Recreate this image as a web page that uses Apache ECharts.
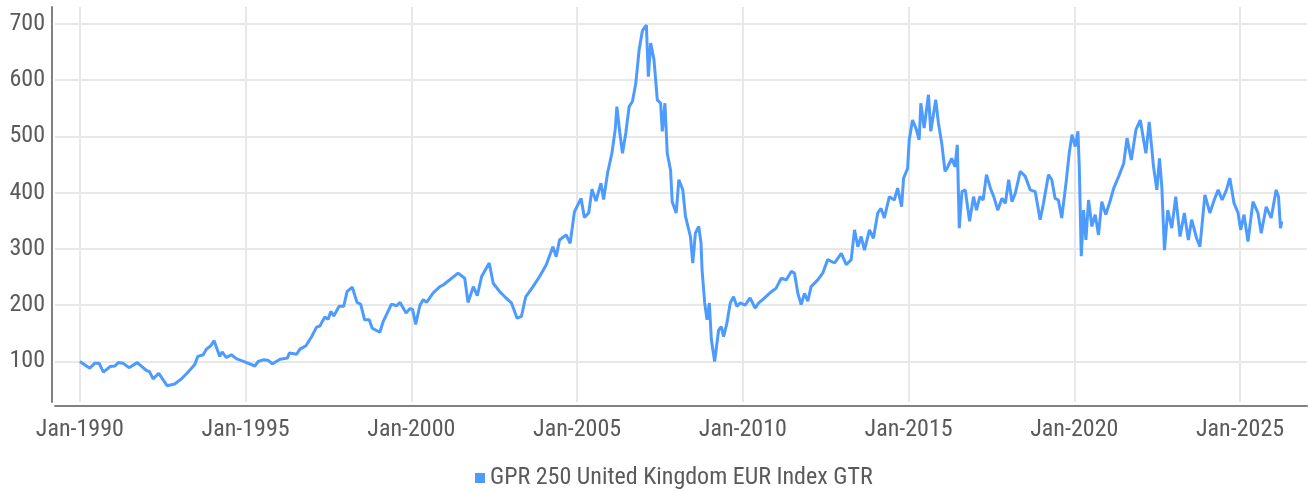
<!DOCTYPE html>
<html>
<head>
<meta charset="utf-8">
<script src="https://cdn.jsdelivr.net/npm/echarts@6/dist/echarts.min.js"></script>
<style>
  html, body { margin: 0; padding: 0; background: #fff; }
  #chart { width: 1308px; height: 491px; }
</style>
</head>
<body>
<div id="chart"></div>
<script>
// index level, x as decimal year
const seriesName = 'GPR 250 United Kingdom EUR Index GTR'
const years = [
  1990.0, 1990.3, 1990.45, 1990.58, 1990.71, 1990.91, 1991.06, 1991.16, 1991.3, 1991.48,
  1991.73, 1992.01, 1992.1, 1992.21, 1992.38, 1992.63, 1992.86, 1993.06, 1993.26, 1993.46,
  1993.56, 1993.72, 1993.82, 1993.95, 1994.05, 1994.22, 1994.29, 1994.42, 1994.57, 1994.72,
  1995.03, 1995.28, 1995.38, 1995.53, 1995.68, 1995.81, 1996.04, 1996.26, 1996.32, 1996.54,
  1996.64, 1996.82, 1996.99, 1997.14, 1997.24, 1997.39, 1997.49, 1997.57, 1997.66, 1997.82,
  1997.96, 1998.06, 1998.22, 1998.36, 1998.47, 1998.59, 1998.73, 1998.82, 1999.05, 1999.15,
  1999.4, 1999.55, 1999.66, 1999.84, 1999.96, 2000.04, 2000.13, 2000.26, 2000.36, 2000.46,
  2000.66, 2000.86, 2000.96, 2001.13, 2001.41, 2001.61, 2001.71, 2001.87, 2001.99, 2002.12,
  2002.35, 2002.47, 2002.67, 2002.82, 2003.02, 2003.19, 2003.32, 2003.45, 2003.67, 2003.87,
  2004.07, 2004.27, 2004.37, 2004.47, 2004.67, 2004.79, 2004.92, 2005.12, 2005.22, 2005.35,
  2005.45, 2005.57, 2005.72, 2005.8, 2005.92, 2006.05, 2006.15, 2006.2, 2006.29, 2006.37,
  2006.47, 2006.57, 2006.67, 2006.77, 2006.87, 2006.97, 2007.09, 2007.15, 2007.22, 2007.32,
  2007.42, 2007.52, 2007.57, 2007.65, 2007.72, 2007.82, 2007.87, 2007.99, 2008.07, 2008.19,
  2008.27, 2008.42, 2008.49, 2008.57, 2008.67, 2008.74, 2008.77, 2008.85, 2008.92, 2008.99,
  2009.05, 2009.15, 2009.27, 2009.35, 2009.42, 2009.52, 2009.62, 2009.72, 2009.82, 2009.92,
  2010.07, 2010.22, 2010.37, 2010.48, 2010.6, 2010.86, 2011.0, 2011.16, 2011.31, 2011.46,
  2011.56, 2011.66, 2011.76, 2011.86, 2011.96, 2012.06, 2012.26, 2012.41, 2012.56, 2012.77,
  2012.97, 2013.12, 2013.27, 2013.37, 2013.47, 2013.57, 2013.67, 2013.82, 2013.94, 2014.07,
  2014.17, 2014.27, 2014.42, 2014.57, 2014.67, 2014.79, 2014.85, 2014.97, 2015.02, 2015.12,
  2015.22, 2015.32, 2015.37, 2015.47, 2015.6, 2015.67, 2015.82, 2015.9, 2016.0, 2016.1,
  2016.17, 2016.3, 2016.4, 2016.47, 2016.53, 2016.61, 2016.71, 2016.84, 2016.96, 2017.05,
  2017.15, 2017.25, 2017.35, 2017.47, 2017.57, 2017.69, 2017.82, 2017.92, 2018.02, 2018.12,
  2018.22, 2018.37, 2018.52, 2018.67, 2018.82, 2018.97, 2019.07, 2019.22, 2019.32, 2019.42,
  2019.52, 2019.62, 2019.75, 2019.85, 2019.93, 2020.03, 2020.11, 2020.15, 2020.21, 2020.28,
  2020.35, 2020.43, 2020.53, 2020.63, 2020.73, 2020.83, 2020.95, 2021.09, 2021.19, 2021.34,
  2021.49, 2021.59, 2021.72, 2021.86, 2021.99, 2022.09, 2022.16, 2022.26, 2022.39, 2022.49,
  2022.57, 2022.64, 2022.72, 2022.82, 2022.94, 2023.06, 2023.19, 2023.32, 2023.44, 2023.54,
  2023.69, 2023.79, 2023.94, 2024.09, 2024.22, 2024.34, 2024.46, 2024.59, 2024.69, 2024.82,
  2024.94, 2025.02, 2025.12, 2025.24, 2025.39, 2025.54, 2025.64, 2025.79, 2025.94, 2026.09,
  2026.16, 2026.22, 2026.26
]
const values = [
  100, 88, 97, 97, 81, 91, 92, 98, 97, 89,
  98, 84, 82, 69, 79, 57, 60, 69, 81, 94,
  109, 112, 122, 128, 137, 109, 117, 107, 112, 105,
  98, 92, 100, 103, 102, 96, 104, 106, 115, 113,
  122, 128, 144, 161, 163, 179, 175, 189, 181, 198,
  198, 224, 232, 205, 202, 174, 174, 159, 152, 171,
  202, 199, 205, 186, 194, 192, 166, 200, 210, 205,
  222, 233, 236, 244, 257, 248, 205, 233, 217, 251,
  275, 239, 224, 215, 204, 177, 180, 215, 233, 251,
  272, 304, 286, 316, 325, 310, 366, 390, 356, 364,
  406, 385, 417, 388, 435, 470, 512, 553, 506, 470,
  506, 553, 562, 594, 653, 688, 698, 606, 666, 636,
  565, 559, 509, 559, 470, 440, 384, 364, 423, 405,
  358, 322, 275, 328, 340, 310, 263, 204, 174, 204,
  139, 100, 156, 162, 144, 168, 204, 215, 198, 204,
  200, 213, 195, 204, 210, 224, 230, 248, 245, 260,
  257, 221, 201, 221, 207, 233, 245, 257, 281, 275,
  292, 272, 281, 334, 304, 322, 298, 334, 319, 364,
  372, 355, 393, 387, 408, 375, 426, 443, 494, 529,
  515, 494, 559, 515, 574, 509, 565, 524, 488, 438,
  444, 461, 446, 485, 337, 402, 405, 349, 393, 369,
  393, 387, 432, 408, 393, 369, 390, 381, 423, 384,
  399, 438, 429, 405, 402, 352, 381, 432, 423, 390,
  387, 355, 417, 472, 503, 482, 509, 446, 287, 369,
  316, 387, 340, 361, 325, 384, 361, 387, 408, 429,
  452, 497, 458, 512, 529, 494, 470, 526, 446, 405,
  461, 411, 298, 369, 337, 393, 322, 364, 316, 352,
  319, 304, 396, 364, 387, 405, 387, 405, 426, 381,
  364, 334, 361, 313, 384, 364, 328, 375, 355, 405,
  393, 337, 349
]
const xTicks = [1990, 1995, 2000, 2005, 2010, 2015, 2020, 2025]
const yTicks = [100, 200, 300, 400, 500, 600, 700]

const font = "'Liberation Sans Narrow', 'Roboto Condensed', 'DejaVu Sans Condensed', sans-serif"
const textColor = '#5a5a5a'
const gridColor = '#e8e8e8'
const axisColor = '#808080'
const lineColor = '#4e9bff'

const chart = echarts.init(document.getElementById('chart'))

chart.setOption({
  animation: false,
  textStyle: { fontFamily: font },
  grid: { left: 55, right: 1, top: 7, bottom: 89 },
  legend: {
    data: [seriesName],
    icon: 'rect',
    itemWidth: 10,
    itemHeight: 10,
    itemGap: 6,
    left: 470,
    top: 461,
    textStyle: { fontFamily: font, fontSize: 24, color: textColor }
  },
  xAxis: {
    type: 'value',
    min: 1989.25,
    max: 2027.02,
    offset: 4,
    axisLine: { show: true, lineStyle: { color: axisColor, width: 2 } },
    axisTick: { show: false, customValues: xTicks },
    axisLabel: {
      customValues: xTicks,
      formatter: v => 'Jan-' + v,
      fontFamily: font,
      fontSize: 24,
      color: textColor,
      margin: 12
    },
    splitLine: { show: true, lineStyle: { color: gridColor, width: 2 } }
  },
  yAxis: {
    type: 'value',
    min: 28,
    max: 730,
    offset: 3,
    axisLine: { show: true, lineStyle: { color: axisColor, width: 2 } },
    axisTick: { show: false, customValues: yTicks },
    axisLabel: {
      customValues: yTicks,
      fontFamily: font,
      fontSize: 24,
      color: textColor,
      margin: 7
    },
    splitLine: { show: true, lineStyle: { color: gridColor, width: 2 } }
  },
  series: [
    {
      name: seriesName,
      type: 'line',
      showSymbol: false,
      data: years.map((y, i) => [y, values[i]]),
      lineStyle: { color: lineColor, width: 3 },
      itemStyle: { color: lineColor }
    }
  ]
})
</script>
</body>
</html>
